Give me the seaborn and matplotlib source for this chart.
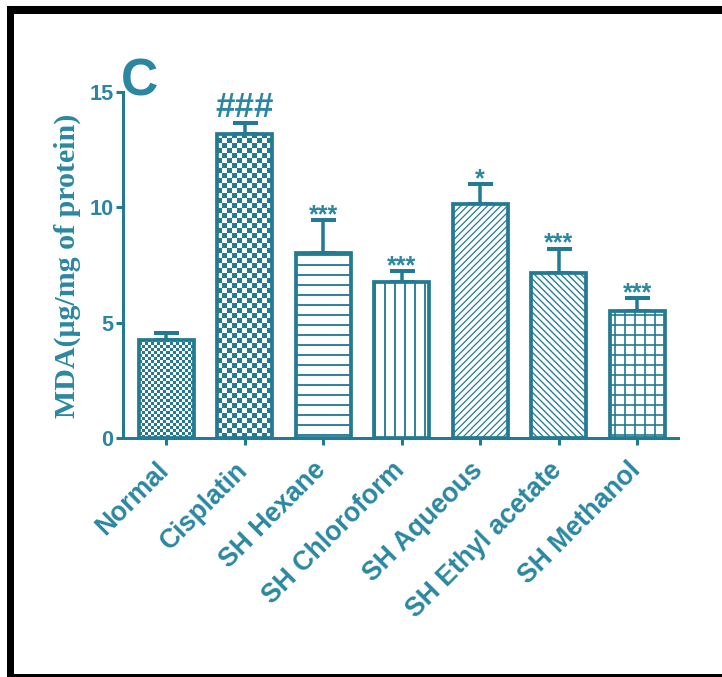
import numpy as np
import pandas as pd
import matplotlib
matplotlib.use("Agg")
import matplotlib.pyplot as plt
import seaborn as sns
from matplotlib.colors import ListedColormap
from matplotlib.patches import Rectangle
from matplotlib.transforms import ScaledTranslation

# ---- data -------------------------------------------------------------
categories = ["Normal", "Cisplatin", "SH Hexane", "SH Chloroform",
              "SH Aqueous", "SH Ethyl acetate", "SH Methanol"]
mda_mean = [4.25, 13.2, 8.03, 6.77, 10.16, 7.16, 5.49]
mda_sem = [0.32, 0.45, 1.40, 0.45, 0.85, 1.05, 0.58]
significance = ["", "###", "***", "***", "*", "***", "***"]
y_ticks = [0, 5, 10, 15]

# ---- style ------------------------------------------------------------
TEAL = "#237b93"
TEXT = "#2b87a1"
DPI = 60
W_PX, H_PX = 722, 677

sns.set_style("ticks")
plt.rcParams["font.family"] = ["Liberation Sans", "DejaVu Sans"]
plt.rcParams["hatch.linewidth"] = 2.2
plt.rcParams["hatch.color"] = TEAL

fig = plt.figure(figsize=(W_PX / DPI, H_PX / DPI), dpi=DPI)
ax_left, ax_bottom, ax_w, ax_h = 123, 239, 555, 346
ax = fig.add_axes([ax_left / W_PX, ax_bottom / H_PX, ax_w / W_PX, ax_h / H_PX])

df = pd.DataFrame({"group": categories, "mda": mda_mean})
sns.barplot(data=df, x="group", y="mda", ax=ax, width=0.7, color="white",
            saturation=1, edgecolor=TEAL, linewidth=4.5, errorbar=None)

XLIM = (-0.55, 6.52)
YLIM = (0, 15)

# one-sided SEM bars
ax.errorbar(np.arange(len(categories)), mda_mean,
            yerr=[np.zeros(len(categories)), mda_sem], fmt="none",
            ecolor=TEAL, elinewidth=4.2, capsize=15, capthick=4.8, zorder=1.5)

# fill patterns
hatches = [None, None, "-", "|", "///", "\\\\\\", "+"]
hatch_lw = [None, None, 2.2, 2.2, 1.5, 1.6, 2.0]
checker_cell_px = [3.0, 5.0]
px_per_x = ax_w / (XLIM[1] - XLIM[0])
px_per_y = ax_h / (YLIM[1] - YLIM[0])
checker_cmap = ListedColormap(["white", TEAL])

for i, patch in enumerate(ax.patches[:len(categories)]):
    patch.set_zorder(2)
    if hatches[i] is not None:
        patch.set_hatch(hatches[i])
        if hasattr(patch, "set_hatch_linewidth"):
            patch.set_hatch_linewidth(hatch_lw[i])
    else:
        x0, w, h = patch.get_x(), patch.get_width(), patch.get_height()
        cell = checker_cell_px[i]
        nx = max(1, int(round(w * px_per_x / cell)))
        ny = max(1, int(round(h * px_per_y / cell)))
        board = np.indices((ny, nx)).sum(axis=0) % 2
        im = ax.imshow(board, extent=(x0, x0 + w, 0, h), origin="lower",
                       cmap=checker_cmap, interpolation="nearest",
                       aspect="auto", zorder=1.9)
        im.set_clip_path(patch)
        patch.set_facecolor("none")

# significance marks
for i, mark in enumerate(significance):
    if not mark:
        continue
    top = mda_mean[i] + mda_sem[i]
    if mark.startswith("#"):
        ax.annotate(mark, xy=(i, top), xytext=(0, 6), textcoords="offset pixels",
                    ha="center", va="baseline", fontsize=42, fontweight="bold",
                    color=TEXT)
    else:
        ax.annotate(mark, xy=(i, top), xytext=(0, -2), textcoords="offset pixels",
                    ha="center", va="baseline", fontsize=30, fontweight="bold",
                    color=TEXT)

# axes cosmetics
ax.set_xlim(*XLIM)
ax.set_ylim(*YLIM)
ax.set_xlabel("")
ax.tick_params(axis="both", direction="out", length=8.4, width=3.6, color=TEAL)
ax.tick_params(axis="x", pad=10)
ax.tick_params(axis="y", pad=3)
ax.set_yticks(y_ticks)
ax.set_yticklabels([str(t) for t in y_ticks], fontsize=26, fontweight="bold",
                   color=TEXT)
ax.set_xticks(np.arange(len(categories)))
ax.set_xticklabels(categories, rotation=45, ha="right", rotation_mode="anchor",
                   fontsize=32, fontweight="bold", color=TEXT)
shift = ScaledTranslation(-10 / DPI, -4 / DPI, fig.dpi_scale_trans)
for lab in ax.get_xticklabels():
    lab.set_transform(lab.get_transform() + shift)
sns.despine(ax=ax)
for side in ("left", "bottom"):
    ax.spines[side].set_color(TEAL)
    ax.spines[side].set_linewidth(3.6)

ax.set_ylabel("MDA(μg/mg of protein)", fontfamily=["Liberation Serif", "DejaVu Serif"],
              fontweight="bold", fontsize=36, color=TEXT, va="center")
ax.yaxis.set_label_coords(-0.101, 0.497)

# panel letter
fig.text(121 / W_PX, 1 - 95 / H_PX, "C", fontsize=62, fontweight="bold",
         color=TEXT, ha="left", va="baseline")

# black frame (top, left, bottom)
for (x, y, w, h) in [(7, H_PX - 14, W_PX - 7, 8), (7, 0, 7, H_PX - 6), (7, 0, W_PX - 7, 3.5)]:
    fig.add_artist(Rectangle((x / W_PX, y / H_PX), w / W_PX, h / H_PX,
                             transform=fig.transFigure, color="black", lw=0))

fig.savefig("out.png", dpi=DPI)
